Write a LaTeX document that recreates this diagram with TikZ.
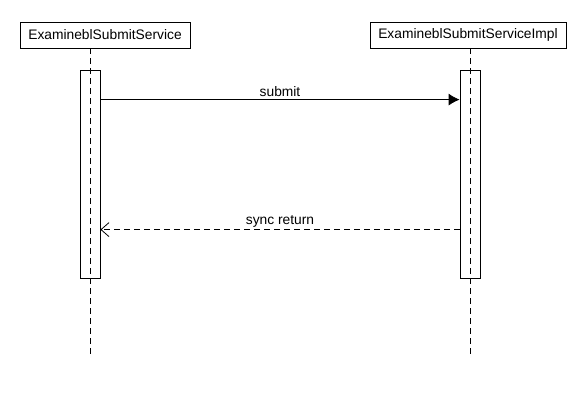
\documentclass[tikz,border=0pt]{standalone}
\usepackage{fontspec}
\setmainfont{Liberation Sans}
\usetikzlibrary{arrows.meta,positioning}

\begin{document}
\begin{tikzpicture}[x=1pt, y=-1pt, line width=0.8pt, every node/.style={font=\fontsize{13.8}{16}\selectfont}]
\tikzset{
  head/.style={draw, minimum height=26pt, inner sep=0pt},
  act/.style={draw, minimum width=20pt, minimum height=208pt, inner sep=0pt},
  life/.style={dash pattern=on 6pt off 4pt},
  msg/.style={-{Latex[length=11pt,width=12pt]}},
  ret/.style={dash pattern=on 6pt off 4pt, -{Straight Barb[length=8pt,width=14pt]}}
}
\useasboundingbox (0,0) rectangle (580,400);
% lifeline heads
\node[head, minimum width=170pt] (svc) at (105,35) {ExamineblSubmitService};
\node[head, minimum width=196pt] (impl) at (468,35) {ExamineblSubmitServiceImpl};
\coordinate (svcEnd) at (90,358);
\coordinate (implEnd) at (470,358);
% lifelines
\draw[life] (svc.south -| svcEnd) -- (svcEnd);
\draw[life] (impl.south -| implEnd) -- (implEnd);
% activations
\node[act] (svcAct) at (90,174) {};
\node[act] (implAct) at (470,174) {};
% messages
\draw[msg] ([yshift=-30pt]svcAct.north east) -- node[above=-1pt] {submit} ([yshift=-30pt]implAct.north west);
\draw[ret] ([yshift=-160pt]implAct.north west) -- node[above=-1pt] {sync return} ([yshift=-160pt]svcAct.north east);
\end{tikzpicture}
\end{document}
